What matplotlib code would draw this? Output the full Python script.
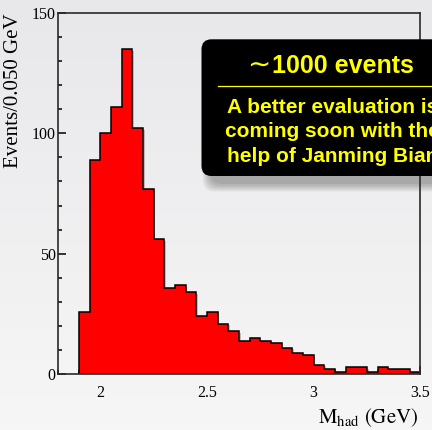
import numpy as np
import matplotlib
matplotlib.use("Agg")
import matplotlib.pyplot as plt
import matplotlib.patheffects as pe
from matplotlib.patches import FancyBboxPatch
from matplotlib.ticker import FixedLocator, MultipleLocator, FormatStrFormatter

# hadronic mass spectrum, 0.05 GeV bins from 1.9 to 3.5 GeV
bin_edges = np.round(np.arange(1.9, 3.5001, 0.05), 3)
counts = [26, 89, 100, 111, 135, 102, 77, 56, 36, 37, 34, 24, 26, 21, 18, 14,
          15, 14, 13, 11, 9, 8, 4, 2, 1, 3, 3, 1, 3, 2, 2, 1]
x_ticks = [2, 2.5, 3, 3.5]
y_ticks = [0, 50, 100, 150]

title_sym = "\u223c"
title_txt = "1000 events"
note_lines = ["A better evaluation is", "coming soon with the", "help of Janming Bian"]

plt.rcParams["mathtext.fontset"] = "stix"

W, H = 432, 430
fig = plt.figure(figsize=(W / 100, H / 100), dpi=100)

# light grey vertical gradient behind everything
bg = fig.add_axes([0, 0, 1, 1], zorder=-10)
grad = np.linspace(0, 1, 256).reshape(-1, 1)
top_c = np.array([0.91, 0.91, 0.92])
bot_c = np.array([0.965, 0.965, 0.965])
img = top_c + (bot_c - top_c) * grad
bg.imshow(img[:, None, :].repeat(2, axis=1), aspect="auto", extent=[0, 1, 0, 1],
          origin="upper")
bg.axis("off")

ax = fig.add_axes([57.7 / W, 1 - 374.3 / H, (420.3 - 57.7) / W, (374.3 - 12.7) / H])
ax.patch.set_alpha(0)

ax.stairs(counts, bin_edges, fill=True, facecolor="#ff0000", edgecolor="black",
          linewidth=1.1, zorder=2,
          path_effects=[pe.SimplePatchShadow(offset=(1.2, -1.2), shadow_rgbFace="0.35",
                                             alpha=0.35), pe.Normal()])

ax.set_xlim(1.8, 3.5)
ax.set_ylim(0, 150)
ax.xaxis.set_major_locator(FixedLocator(x_ticks))
ax.xaxis.set_minor_locator(MultipleLocator(0.1))
ax.yaxis.set_major_locator(FixedLocator(y_ticks))
ax.yaxis.set_minor_locator(MultipleLocator(10))
ax.xaxis.set_major_formatter(FormatStrFormatter("%g"))
ax.yaxis.set_major_formatter(FormatStrFormatter("%g"))

ax.tick_params(which="both", direction="in", top=False, right=False, width=1.1,
               color="black", labelsize=11.5, zorder=5)
ax.tick_params(which="major", length=5.8)
ax.tick_params(which="minor", length=2.9)
ax.tick_params(axis="x", pad=8)
ax.tick_params(axis="y", pad=1.5)
for lab in ax.get_xticklabels() + ax.get_yticklabels():
    lab.set_fontfamily("Liberation Serif")
for sp in ax.spines.values():
    sp.set_linewidth(1.2)
    sp.set_color("#2a2a2a")
    sp.set_zorder(6)

fig.text(13.5 / W, 1 - 13 / H, "Events/0.050 GeV", rotation=90, ha="center", va="top",
         fontsize=15, family="Liberation Serif")
fig.text(418 / W, 1 - 423 / H, r"$\mathrm{M_{had}\ (GeV)}$", ha="right", va="baseline",
         fontsize=15)

# black note box with a soft shadow, running off the right edge
px = fig.dpi_scale_trans
bx0, by0, bx1, by1 = 201.5, 39.3, 463, 176.0
for k in range(6):
    g = 1.5 * k
    sh = FancyBboxPatch(((bx0 + 9 - g) / 100, (H - by1 - 8 - g) / 100),
                        (bx1 - bx0 + 2 * g) / 100, (by1 - by0 + 2 * g) / 100,
                        boxstyle="round,pad=0,rounding_size=0.12",
                        transform=px, facecolor="0.2", edgecolor="none",
                        alpha=0.07, zorder=8)
    fig.add_artist(sh)
box = FancyBboxPatch((bx0 / 100, (H - by1) / 100), (bx1 - bx0) / 100, (by1 - by0) / 100,
                     boxstyle="round,pad=0,rounding_size=0.1", transform=px,
                     facecolor="black", edgecolor="none", zorder=9)
fig.add_artist(box)

yellow = "#ffff00"
cx = 332.5
fig.text(258.5 / W, 1 - 64.5 / H, title_sym, ha="center", va="center", fontsize=20,
         family="DejaVu Sans", color=yellow, zorder=10)
fig.text(271.5 / W, 1 - 72.7 / H, title_txt, ha="left", va="baseline", fontsize=18,
         fontweight="bold", family="Liberation Sans", color=yellow, zorder=10)
fig.add_artist(plt.Line2D([217.7 / W, (bx1 - 16) / W], [1 - 86 / H, 1 - 86 / H],
                          transform=fig.transFigure, color=yellow, lw=0.9, zorder=10))
for i, line in enumerate(note_lines):
    fig.text(cx / W, 1 - (112.7 + 24.5 * i) / H, line, ha="center", va="baseline",
             fontsize=15, fontweight="bold", family="Liberation Sans", color=yellow,
             zorder=10)

fig.savefig("out.png", dpi=100)
